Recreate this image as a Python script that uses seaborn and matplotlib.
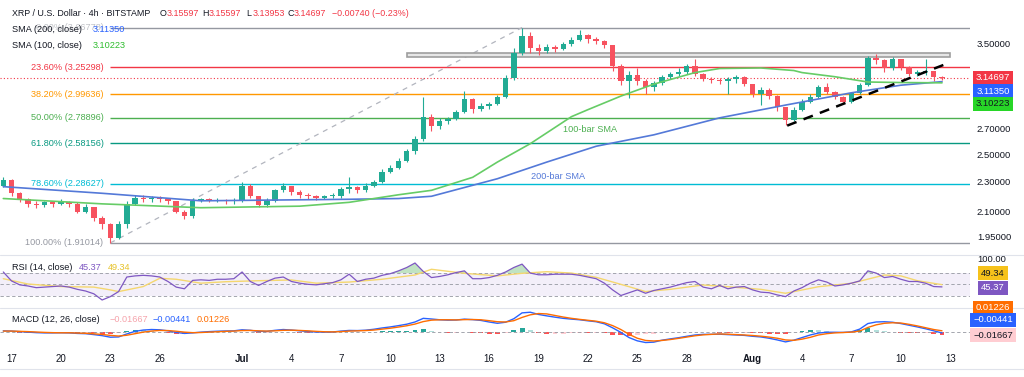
import numpy as np
import pandas as pd
import matplotlib
matplotlib.use('Agg')
import matplotlib.pyplot as plt
import seaborn as sns
from matplotlib.patches import Rectangle
from matplotlib.lines import Line2D
from matplotlib.ticker import NullLocator, NullFormatter

# ---- data (12h bars) ----
start = '2025-06-16 12:00'
first_open = 2.27
close = [2.31, 2.22, 2.18, 2.15, 2.14, 2.16, 2.15, 2.16, 2.15, 2.10,
         2.13, 2.06, 2.02, 1.94, 2.02, 2.15, 2.19, 2.18, 2.19, 2.18,
         2.17, 2.10, 2.07, 2.17, 2.18, 2.17, 2.175, 2.17, 2.17, 2.27,
         2.20, 2.14, 2.17, 2.24, 2.27, 2.23, 2.21, 2.20, 2.19, 2.20,
         2.20, 2.25, 2.26, 2.24, 2.27, 2.30, 2.37, 2.40, 2.45, 2.52,
         2.62, 2.80, 2.72, 2.76, 2.78, 2.84, 2.95, 2.87, 2.89, 2.91,
         2.97, 3.15, 3.40, 3.58, 3.45, 3.42, 3.46, 3.44, 3.49, 3.53,
         3.59, 3.54, 3.52, 3.48, 3.26, 3.12, 3.18, 3.12, 3.06, 3.10,
         3.16, 3.19, 3.21, 3.26, 3.19, 3.14, 3.13, 3.12, 3.14, 3.16,
         3.09, 3.00, 3.04, 2.98, 2.88, 2.77, 2.86, 2.93, 2.97, 3.06,
         3.02, 2.97, 2.93, 3.01, 3.08, 3.34, 3.32, 3.24, 3.33, 3.25,
         3.19, 3.21, 3.22, 3.156, 3.14697]
high = [2.33, 2.32, 2.23, 2.19, 2.17, 2.17, 2.17, 2.18, 2.17, 2.16,
        2.15, 2.13, 2.07, 2.03, 2.04, 2.17, 2.21, 2.21, 2.20, 2.20,
        2.19, 2.17, 2.11, 2.19, 2.19, 2.19, 2.19, 2.18, 2.19, 2.30,
        2.28, 2.20, 2.19, 2.25, 2.29, 2.27, 2.24, 2.22, 2.21, 2.21,
        2.22, 2.26, 2.33, 2.27, 2.29, 2.31, 2.39, 2.42, 2.47, 2.54,
        2.64, 2.97, 2.82, 2.79, 2.80, 2.86, 3.03, 2.96, 2.92, 2.93,
        2.99, 3.18, 3.45, 3.66778, 3.62, 3.49, 3.49, 3.48, 3.51, 3.56,
        3.64, 3.60, 3.56, 3.53, 3.48, 3.28, 3.22, 3.24, 3.14, 3.12,
        3.18, 3.21, 3.24, 3.28, 3.33, 3.20, 3.16, 3.15, 3.16, 3.18,
        3.17, 3.09, 3.06, 3.05, 2.99, 2.88, 2.88, 2.95, 3.00, 3.08,
        3.10, 3.03, 2.98, 3.02, 3.10, 3.36, 3.39, 3.33, 3.35, 3.33,
        3.26, 3.23, 3.33, 3.22, 3.17]
low = [2.26, 2.20, 2.16, 2.13, 2.12, 2.13, 2.13, 2.14, 2.13, 2.09,
       2.09, 2.04, 1.99, 1.91014, 1.93, 2.00, 2.14, 2.16, 2.16, 2.16,
       2.15, 2.09, 2.055, 2.06, 2.16, 2.16, 2.16, 2.15, 2.15, 2.16,
       2.19, 2.13, 2.13, 2.16, 2.23, 2.21, 2.19, 2.18, 2.175, 2.18,
       2.19, 2.19, 2.22, 2.22, 2.23, 2.26, 2.29, 2.36, 2.39, 2.44,
       2.50, 2.60, 2.68, 2.70, 2.74, 2.77, 2.83, 2.83, 2.85, 2.87,
       2.90, 2.96, 3.13, 3.38, 3.40, 3.38, 3.40, 3.41, 3.43, 3.47,
       3.52, 3.50, 3.49, 3.45, 3.22, 3.08, 2.96, 3.08, 3.00, 3.03,
       3.08, 3.14, 3.17, 3.19, 3.17, 3.12, 3.10, 3.09, 3.00, 3.10,
       3.07, 2.97, 2.90, 2.95, 2.85, 2.73, 2.76, 2.85, 2.92, 2.96,
       3.00, 2.95, 2.91, 2.92, 3.00, 3.07, 3.28, 3.21, 3.23, 3.23,
       3.17, 3.17, 3.18, 3.12, 3.13]

sma100_bar = [0, 12, 24, 36, 42, 48, 52, 57, 60, 64, 69, 71, 75, 79, 84, 87, 92, 96, 97, 101, 105, 109, 114]
sma100 = [2.185, 2.15, 2.125, 2.135, 2.16, 2.21, 2.24, 2.33, 2.44, 2.58, 2.80, 2.86,
          2.98, 3.09, 3.20, 3.24, 3.245, 3.22, 3.20, 3.16, 3.11, 3.105, 3.10223]
sma200_bar = [0, 12, 24, 42, 48, 52, 60, 66, 72, 79, 87, 95, 103, 109, 114]
sma200 = [2.265, 2.22, 2.17, 2.18, 2.185, 2.20, 2.32, 2.44, 2.56, 2.65, 2.79, 2.90, 3.01, 3.08, 3.1135]

rsi = [72, 56, 49, 47, 44, 45, 46, 47, 45, 41,
       38, 33, 22, 28, 37, 63, 65, 66, 65, 63,
       55, 45, 42, 57, 58, 57, 59, 59, 60, 72,
       55, 48, 55, 61, 63, 55, 52, 50, 49, 51,
       53, 58, 68, 55, 59, 61, 66, 69, 74, 80,
       88, 73, 62, 64, 67, 71, 74, 60, 60, 62,
       66, 72, 80, 86, 70, 67, 67, 68, 68, 68,
       66, 63, 60, 52, 40, 30, 35, 40, 34, 39,
       42, 45, 49, 53, 55, 45, 42, 48, 42, 45,
       46, 40, 36, 35, 31, 28, 38, 44, 52, 58,
       54, 47, 49, 52, 56, 74, 70, 62, 64, 59,
       55, 55, 52, 46, 45.37]
rsi_ma_bar = [0, 3, 7, 11, 13, 14, 17, 19, 21, 24, 27, 31, 35, 38, 42, 46, 50, 52, 56, 60,
              63, 66, 69, 72, 76, 78, 81, 85, 88, 92, 95, 99, 103, 107, 109, 111, 114]
rsi_ma = [60, 50.5, 46, 45, 40, 37, 46, 60.7, 59, 52, 54.6, 56.4, 57.7, 52, 54, 59, 66.6, 76.8, 69.6, 65,
          69.6, 72.5, 70, 62.5, 45.7, 37, 41, 48.8, 45.7, 41, 34, 45.7, 51.8, 66.6, 65, 56.4, 49.34]

macd = [0.012, 0.010, 0.006, 0.002, -0.002, -0.004, -0.004, -0.003, -0.004, -0.008,
        -0.010, -0.017, -0.025, -0.037, -0.035, -0.012, 0.008, 0.018, 0.022, 0.020,
        0.012, 0.000, -0.008, -0.004, 0.002, 0.006, 0.009, 0.011, 0.012, 0.020,
        0.016, 0.008, 0.008, 0.016, 0.022, 0.018, 0.012, 0.007, 0.003, 0.002,
        0.003, 0.010, 0.015, 0.014, 0.017, 0.024, 0.034, 0.042, 0.052, 0.063,
        0.080, 0.108, 0.103, 0.097, 0.094, 0.095, 0.102, 0.098, 0.092, 0.080,
        0.070, 0.078, 0.105, 0.150, 0.155, 0.138, 0.127, 0.117, 0.108, 0.102,
        0.097, 0.089, 0.082, 0.066, 0.035, 0.000, -0.040, -0.065, -0.078, -0.075,
        -0.060, -0.050, -0.041, -0.030, -0.020, -0.015, -0.015, -0.014, -0.017, -0.020,
        -0.023, -0.030, -0.035, -0.045, -0.058, -0.073, -0.060, -0.040, -0.020, -0.005,
        0.001, 0.001, 0.000, 0.004, 0.025, 0.068, 0.080, 0.082, 0.078, 0.068,
        0.055, 0.042, 0.028, 0.012, -0.00441]
signal = [0.010, 0.010, 0.008, 0.006, 0.003, 0.000, -0.002, -0.003, -0.003, -0.005,
          -0.007, -0.011, -0.016, -0.023, -0.028, -0.022, -0.010, 0.002, 0.010, 0.015,
          0.014, 0.009, 0.002, -0.002, -0.001, 0.002, 0.005, 0.008, 0.010, 0.014,
          0.015, 0.012, 0.010, 0.012, 0.016, 0.017, 0.015, 0.012, 0.008, 0.005,
          0.004, 0.006, 0.010, 0.012, 0.014, 0.018, 0.025, 0.032, 0.041, 0.051,
          0.064, 0.083, 0.094, 0.097, 0.097, 0.096, 0.098, 0.099, 0.097, 0.090,
          0.082, 0.080, 0.090, 0.115, 0.135, 0.145, 0.142, 0.130, 0.118, 0.108,
          0.100, 0.093, 0.086, 0.074, 0.052, 0.022, -0.015, -0.045, -0.062, -0.066,
          -0.062, -0.055, -0.046, -0.036, -0.026, -0.019, -0.015, -0.012, -0.014, -0.017,
          -0.020, -0.024, -0.029, -0.036, -0.045, -0.058, -0.061, -0.052, -0.038, -0.020,
          -0.010, -0.004, -0.001, 0.002, 0.010, 0.038, 0.058, 0.070, 0.074, 0.072,
          0.062, 0.050, 0.036, 0.022, 0.01226]

fib_ratios = [0.0, 0.236, 0.382, 0.5, 0.618, 0.786, 1.0]
fib_prices = [3.66778, 3.25298, 2.99636, 2.78896, 2.58156, 2.28627, 1.91014]
fib_colors = ['#9598a1', '#f23645', '#ff9800', '#4caf50', '#089981', '#00bcd4', '#9598a1']
fib_low_bar, fib_high_bar = 13, 63
zone_bars, zone_prices = [49, 115], [3.355, 3.40]
trend_bars, trend_prices = [95.2, 114.5], [2.725, 3.285]

tick_dates = ['2025-06-17', '2025-06-20', '2025-06-23', '2025-06-26', '2025-07-01', '2025-07-04',
              '2025-07-07', '2025-07-10', '2025-07-13', '2025-07-16', '2025-07-19', '2025-07-22',
              '2025-07-25', '2025-07-28', '2025-08-01', '2025-08-04', '2025-08-07', '2025-08-10',
              '2025-08-13']
tick_labels = ['17', '20', '23', '26', 'Jul', '4', '7', '10', '13', '16', '19', '22',
               '25', '28', 'Aug', '4', '7', '10', '13']
price_ticks = [1.95, 2.10, 2.30, 2.50, 2.70, 3.50]
ohlc_keys = ['O', 'H', 'L', 'C']
ohlc_vals = ['3.15597', '3.15597', '3.13953', '3.14697']

UP, DOWN = '#22ab94', '#f7525f'
BLUE, GREEN = '#2962ff', '#4caf50'

sns.set_theme(style='white')
plt.rcParams['font.family'] = ['Liberation Sans', 'DejaVu Sans']

W, H = 1024, 377
fig = plt.figure(figsize=(W / 100, H / 100), dpi=100)
XMAX = 117.4


def pane(top, bottom):
    a = fig.add_axes([0, 1 - bottom / H, 970 / W, (bottom - top) / H])
    for s in a.spines.values():
        s.set_visible(False)
    a.set_xlim(-0.4, XMAX)
    a.set_facecolor('white')
    return a


def put(x, y, s, **kw):
    kw.setdefault('fontsize', 6.6)
    kw.setdefault('va', 'center')
    kw.setdefault('color', '#131722')
    return fig.text(x / W, 1 - y / H, s, **kw)


def tag(y, s, bg, fg='white'):
    put(993, y, s, ha='center', color=fg, fontsize=6.8,
        bbox=dict(boxstyle='square,pad=0.3', fc=bg, ec='none'))


n = len(close)
bars = np.arange(n)
close_a, high_a, low_a = np.array(close), np.array(high), np.array(low)
opens = np.r_[first_open, close_a[:-1]]
cols = np.where(close_a >= opens, UP, DOWN)

# ---- price pane ----
ax = pane(0, 254)
ax.set_yscale('log')
ax.set_ylim(1.847, 3.987)
ax.vlines(bars, low_a, high_a, colors=cols, lw=0.8, zorder=3)
b_lo = np.minimum(opens, close_a)
b_hi = np.maximum(np.maximum(opens, close_a), b_lo * 1.003)
ax.bar(bars, b_hi - b_lo, bottom=b_lo, width=0.66, color=cols, linewidth=0, zorder=4)

for r, p, c in zip(fib_ratios, fib_prices, fib_colors):
    ax.hlines(p, fib_low_bar, XMAX, color=c, lw=1.0, zorder=2)
    ax.annotate(f'{r * 100:.2f}% ({p:.5f})', (fib_low_bar, p), xytext=(-5, 0),
                textcoords='offset points', ha='right', va='center', fontsize=6.6, color=c,
                alpha=0.6 if r == 0 else 1.0)
ax.plot([fib_low_bar, fib_high_bar], [fib_prices[-1], fib_prices[0]],
        color='#b2b5be', lw=0.9, ls=(0, (4, 4)), zorder=2)
ax.add_patch(Rectangle((zone_bars[0], zone_prices[0]), zone_bars[1] - zone_bars[0],
                       zone_prices[1] - zone_prices[0], fc='#e6e6e6', ec='#9e9e9e', lw=1.2, zorder=2))
ax.axhline(close[-1], color='#f23645', ls=(0, (1, 2)), lw=0.8, zorder=2)

sns.lineplot(x=sma200_bar, y=sma200, ax=ax, color='#5479d8', lw=1.2, zorder=5, legend=False)
sns.lineplot(x=sma100_bar, y=sma100, ax=ax, color='#66cc66', lw=1.2, zorder=5, legend=False)
ax.plot(trend_bars, trend_prices, color='black', lw=1.8, ls=(0, (4, 3)), zorder=6)

ax.yaxis.tick_right()
ax.set_yticks(price_ticks)
ax.yaxis.set_minor_locator(NullLocator())
ax.yaxis.set_minor_formatter(NullFormatter())
ax.set_yticklabels([f'{t:.5f}' for t in price_ticks])
ax.tick_params(axis='y', length=0, pad=5, labelsize=6.8, labelcolor='#131722')
ax.set_xticks([])
ax.set_xlabel('')
ax.set_ylabel('')

# ---- RSI pane ----
ax_r = pane(256, 307)
ax_r.set_ylim(9.5, 100.5)
ax_r.axhspan(30, 70, color='#7e57c2', alpha=0.09, lw=0)
for lvl in (70, 50, 30):
    ax_r.axhline(lvl, color='#9598a1', lw=0.6, ls=(0, (4, 3)))
rsi_a = np.array(rsi)
ax_r.fill_between(bars, 70, rsi_a, where=rsi_a > 70, interpolate=True, color='#4caf50', alpha=0.35, lw=0)
sns.lineplot(x=rsi_ma_bar, y=rsi_ma, ax=ax_r, color='#f5d76e', lw=1.0, legend=False)
sns.lineplot(x=bars, y=rsi, ax=ax_r, color='#7e57c2', lw=0.9, legend=False)
ax_r.set_xticks([])
ax_r.set_yticks([])
ax_r.set_xlabel('')
ax_r.set_ylabel('')

# ---- MACD pane ----
ax_m = pane(308, 348)
ax_m.set_ylim(-0.12, 0.1875)
hist = np.array(macd) - np.array(signal)
prev = np.r_[hist[0], hist[:-1]]
hcols = np.where(hist >= 0, np.where(hist >= prev, '#26a69a', '#b2dfdb'),
                 np.where(hist < prev, '#ff5252', '#ffcdd2'))
ax_m.bar(bars, hist, width=0.6, color=hcols, linewidth=0)
ax_m.axhline(0, color='#9598a1', lw=0.6, ls=(0, (4, 3)))
sns.lineplot(x=bars, y=macd, ax=ax_m, color=BLUE, lw=1.0, legend=False)
sns.lineplot(x=bars, y=signal, ax=ax_m, color='#ff6d00', lw=1.0, legend=False)
times = pd.date_range(start, periods=n, freq='12h')
tick_pos = (pd.to_datetime(tick_dates) - times[0]) / pd.Timedelta('12h')
ax_m.set_xticks(np.asarray(tick_pos, dtype=float))
ax_m.set_xticklabels(tick_labels)
for lab in ax_m.get_xticklabels():
    if lab.get_text() in ('Jul', 'Aug'):
        lab.set_fontweight('bold')
ax_m.tick_params(axis='x', length=0, pad=4, labelsize=7, labelcolor='#131722')
ax_m.set_yticks([])
ax_m.set_xlabel('')
ax_m.set_ylabel('')

# pane separators
for yy in (255, 307.5, 369):
    fig.add_artist(Line2D([0, 1], [1 - yy / H] * 2, color='#e0e3eb', lw=0.8))

# ---- header / legends ----
put(12, 14, 'XRP / U.S. Dollar · 4h · BITSTAMP', fontsize=6.4)
for x, k, v in zip([160, 202, 246, 287], ohlc_keys, ohlc_vals):
    put(x, 14, k, fontsize=6.4)
    put(x + 6.5, 14, v, color='#f23645', fontsize=6.4)
put(332, 14, '−0.00740 (−0.23%)', color='#f23645', fontsize=6.4)
put(12, 30, 'SMA (200, close)')
put(93, 30, '3.11350', color=BLUE)
put(12, 45, 'SMA (100, close)')
put(93, 45, '3.10223', color='#2ebd2e')

put(590, 130, '100-bar SMA', ha='center', color='#4caf50')
put(558, 177, '200-bar SMA', ha='center', color='#5479d8')

put(12, 267, 'RSI (14, close)')
put(79, 267, '45.37', color='#7e57c2')
put(108, 267, '49.34', color='#e6c229')
put(12, 320, 'MACD (12, 26, close)')
put(110, 320, '−0.01667', color='#f5a3ab')
put(153, 320, '−0.00441', color=BLUE)
put(197, 320, '0.01226', color='#ff6d00')

# ---- right-side value tags ----
tag(78, '3.14697', '#f23645')
tag(91, '3.11350', BLUE)
tag(104, '3.10223', '#27d627', '#131722')
put(977, 259, '100.00', fontsize=6.8)
tag(273, '49.34', '#f6c21b', '#131722')
tag(288, '45.37', '#7e57c2')
tag(308, '0.01226', '#ff6d00')
tag(320, '−0.00441', BLUE)
tag(335, '−0.01667', '#ffcdd2', '#131722')

fig.savefig('out.png', dpi=100)
